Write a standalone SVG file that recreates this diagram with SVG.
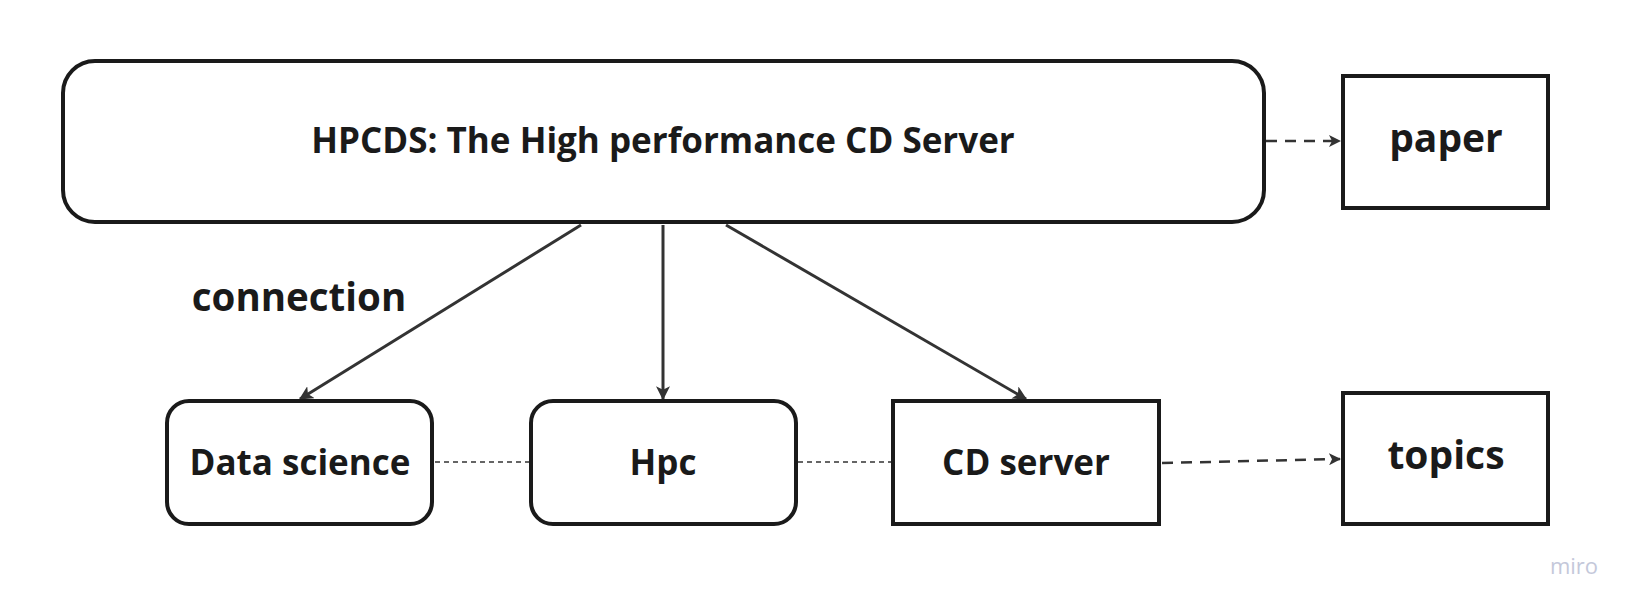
<svg xmlns="http://www.w3.org/2000/svg" width="1638" height="610" viewBox="0 0 1638 610">
<defs>
<style>
.box{fill:#ffffff;stroke:#1a1a1a;stroke-width:4}
.t{font-family:"Open Sans","Noto Sans",sans-serif;font-weight:700;fill:#1a1a1a;text-anchor:middle;dominant-baseline:central}
.c{fill:none;stroke:#333333;stroke-width:3}
.d{fill:none;stroke:#333333;stroke-width:2.5;stroke-dasharray:11 8}
.dot{fill:none;stroke:#333333;stroke-width:1.5;stroke-dasharray:5 4}
</style>
<marker id="ah" viewBox="0 0 12 12" refX="11" refY="6" markerWidth="14" markerHeight="14" markerUnits="userSpaceOnUse" orient="auto">
<path d="M0,0 L12,6 L0,12 L3,6 Z" fill="#333333"/>
</marker>
<marker id="ahs" viewBox="0 0 12 12" refX="11" refY="6" markerWidth="12" markerHeight="12" markerUnits="userSpaceOnUse" orient="auto">
<path d="M0,0 L12,6 L0,12 L3,6 Z" fill="#333333"/>
</marker>
</defs>
<rect width="1638" height="610" fill="#ffffff"/>
<g id="connectors">
<line class="c" x1="581" y1="225" x2="300" y2="399" marker-end="url(#ah)"/>
<line class="c" x1="663" y1="225" x2="663" y2="399" stroke-width="2.5" marker-end="url(#ah)"/>
<line class="c" x1="726" y1="225" x2="1026" y2="399" marker-end="url(#ah)"/>
<line class="d" x1="1266" y1="141" x2="1340" y2="141" marker-end="url(#ahs)"/>
<line class="d" x1="1162" y1="463" x2="1340" y2="459" marker-end="url(#ahs)"/>
<line class="dot" x1="435" y1="462" x2="529" y2="462"/>
<line class="dot" x1="798" y1="462" x2="891" y2="462"/>
</g>
<g id="main">
<rect class="box" x="63" y="61" width="1201" height="161" rx="32"/>
<text class="t" x="663" y="139" font-size="35">HPCDS: The High performance CD Server</text>
</g>
<g id="paper">
<rect class="box" x="1343" y="76" width="205" height="132"/>
<text class="t" x="1446" y="136" font-size="39">paper</text>
</g>
<g id="data-science">
<rect class="box" x="167" y="401" width="265" height="123" rx="22"/>
<text class="t" x="300" y="461" font-size="35">Data science</text>
</g>
<g id="hpc">
<rect class="box" x="531" y="401" width="265" height="123" rx="22"/>
<text class="t" x="663" y="461" font-size="35">Hpc</text>
</g>
<g id="cd-server">
<rect class="box" x="893" y="401" width="266" height="123"/>
<text class="t" x="1026" y="461" font-size="35">CD server</text>
</g>
<g id="topics">
<rect class="box" x="1343" y="393" width="205" height="131"/>
<text class="t" x="1446" y="453" font-size="39">topics</text>
</g>
<g id="label">
<text class="t" x="299" y="296" font-size="38.5">connection</text>
</g>
<text x="1574" y="565" font-family="'Open Sans',sans-serif" font-size="22" fill="#c4c8da" text-anchor="middle" dominant-baseline="central">miro</text>
</svg>
